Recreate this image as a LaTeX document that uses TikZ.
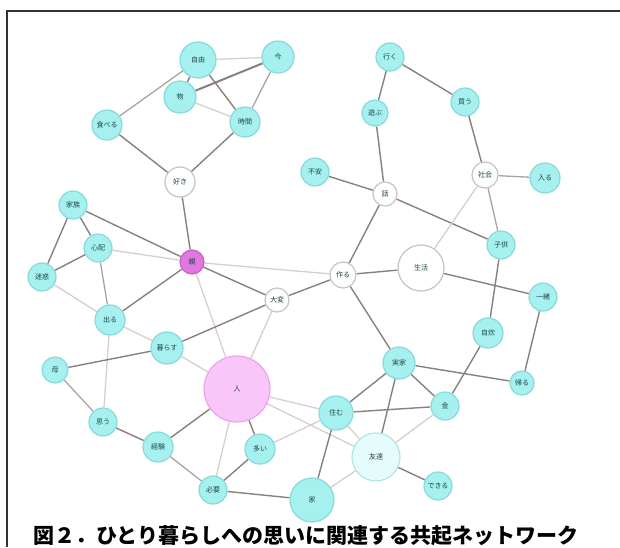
\documentclass[tikz,border=0pt]{standalone}
\usepackage{fontspec}
\newfontfamily\jp{Noto Sans CJK JP}
\definecolor{cyanfill}{HTML}{A6F0F0}
\definecolor{cyanline}{HTML}{86DADA}
\definecolor{lcyanfill}{HTML}{E6FBFB}
\definecolor{lcyanline}{HTML}{B0E6E6}
\definecolor{whiteline}{HTML}{C4C4C4}
\definecolor{pinkfill}{HTML}{E078E0}
\definecolor{pinkline}{HTML}{C860C8}
\definecolor{bpinkfill}{HTML}{F8C6F8}
\definecolor{bpinkline}{HTML}{EBA4EB}
\definecolor{edark}{HTML}{8A7F7F}
\definecolor{emid}{HTML}{ADA2A2}
\definecolor{elight}{HTML}{DACDCD}
\definecolor{labelc}{HTML}{1E4646}
\pgfdeclarelayer{bg}
\pgfsetlayers{bg,main}
\tikzset{
  nd/.style={circle, inner sep=0pt, line width=1.2pt, font=\jp\fontsize{7}{7}\selectfont, text=labelc, minimum size=2*#1 pt},
  cy/.style={nd=#1, fill=cyanfill, draw=cyanline},
  wh/.style={nd=#1, fill=white, draw=whiteline},
  lc/.style={nd=#1, fill=lcyanfill, draw=lcyanline},
  pk/.style={nd=#1, fill=pinkfill, draw=pinkline},
  bp/.style={nd=#1, fill=bpinkfill, draw=bpinkline},
  ed/.style={draw=edark, line width=1.4pt},
  em/.style={draw=emid, line width=1.3pt},
  el/.style={draw=elight, line width=1.3pt},
}
\begin{document}
\begin{tikzpicture}[x=1pt,y=-1pt]
\useasboundingbox (0,0) rectangle (620,547);
\draw[line width=1.3pt, black!80] (7,547) -- (7,11) -- (620,11);
% nodes
\node[cy=18] (jiyu) at (198,60) {自由};
\node[cy=16] (ima) at (278,57) {今};
\node[cy=16] (mono) at (180,97) {物};
\node[cy=15] (taberu) at (107,125) {食べる};
\node[cy=15] (jikan) at (245,122) {時間};
\node[wh=15] (suki) at (180,182) {好き};
\node[cy=14] (kazoku) at (73,205) {家族};
\node[cy=14] (shinpai) at (98,248) {心配};
\node[cy=14] (meiwaku) at (42,277) {迷惑};
\node[pk=12] (oya) at (192,262) {親};
\node[cy=15] (deru) at (110,320) {出る};
\node[wh=12] (taihen) at (277,300) {大変};
\node[cy=16] (kurasu) at (167,348) {暮らす};
\node[cy=13] (haha) at (55,370) {母};
\node[bp=33] (hito) at (237,389) {人};
\node[cy=14] (omou) at (103,422) {思う};
\node[cy=15] (keiken) at (158,447) {経験};
\node[cy=14] (hitsuyou) at (213,490) {必要};
\node[cy=15] (ooi) at (260,449) {多い};
\node[cy=22] (ie) at (312,500) {家};
\node[cy=17] (sumu) at (336,413) {住む};
\node[lc=24] (tomodachi) at (376,457) {友達};
\node[cy=14] (dekiru) at (438,486) {できる};
\node[cy=16] (jikka) at (399,363) {実家};
\node[cy=14] (kane) at (445,406) {金};
\node[cy=12] (kaeru) at (522,383) {帰る};
\node[cy=15] (jisui) at (488,333) {自炊};
\node[cy=14] (issho) at (543,297) {一緒};
\node[wh=23] (seikatsu) at (421,268) {生活};
\node[wh=13] (tsukuru) at (343,275) {作る};
\node[wh=12] (hanashi) at (385,194) {話};
\node[cy=14] (fuan) at (315,172) {不安};
\node[cy=14] (iku) at (390,57) {行く};
\node[cy=13] (asobu) at (375,113) {遊ぶ};
\node[cy=14] (kau) at (465,102) {買う};
\node[wh=13] (shakai) at (485,175) {社会};
\node[cy=15] (hairu) at (545,178) {入る};
\node[cy=14] (kodomo) at (501,245) {子供};
% edges
\begin{pgfonlayer}{bg}
\draw[ed] (jiyu) -- (mono);
\draw[ed] (jiyu) -- (jikan);
\draw[em] (jiyu) -- (taberu);
\draw[el] (jiyu) -- (ima);
\draw[ed, line width=2pt] (ima) -- (mono);
\draw[em] (ima) -- (jikan);
\draw[el] (mono) -- (jikan);
\draw[ed] (taberu) -- (suki);
\draw[ed] (jikan) -- (suki);
\draw[ed] (suki) -- (oya);
\draw[ed] (kazoku) -- (shinpai);
\draw[ed] (kazoku) -- (meiwaku);
\draw[ed] (kazoku) -- (oya);
\draw[ed] (shinpai) -- (meiwaku);
\draw[el] (shinpai) -- (oya);
\draw[em] (shinpai) -- (deru);
\draw[el] (meiwaku) -- (deru);
\draw[ed] (oya) -- (deru);
\draw[ed] (oya) -- (taihen);
\draw[el] (oya) -- (hito);
\draw[el] (oya) -- (tsukuru);
\draw[el] (deru) -- (kurasu);
\draw[el] (deru) -- (omou);
\draw[ed] (kurasu) -- (taihen);
\draw[ed] (kurasu) -- (haha);
\draw[el] (kurasu) -- (hito);
\draw[ed] (taihen) -- (tsukuru);
\draw[el] (taihen) -- (hito);
\draw[em] (haha) -- (omou);
\draw[ed] (omou) -- (keiken);
\draw[ed] (keiken) -- (hito);
\draw[em] (keiken) -- (hitsuyou);
\draw[el] (hito) -- (hitsuyou);
\draw[ed] (hito) -- (ooi);
\draw[el] (hito) -- (sumu);
\draw[el] (hito) -- (tomodachi);
\draw[ed] (ooi) -- (hitsuyou);
\draw[el] (ooi) -- (sumu);
\draw[ed] (hitsuyou) -- (ie);
\draw[ed] (ie) -- (sumu);
\draw[el] (ie) -- (tomodachi);
\draw[ed] (sumu) -- (jikka);
\draw[ed] (sumu) -- (kane);
\draw[el] (sumu) -- (tomodachi);
\draw[ed] (jikka) -- (tomodachi);
\draw[ed] (jikka) -- (kane);
\draw[ed] (jikka) -- (kaeru);
\draw[ed] (kane) -- (jisui);
\draw[el] (kane) -- (tomodachi);
\draw[ed] (tomodachi) -- (dekiru);
\draw[ed] (issho) -- (kaeru);
\draw[ed] (seikatsu) -- (issho);
\draw[ed] (jisui) -- (kodomo);
\draw[ed] (tsukuru) -- (seikatsu);
\draw[ed] (tsukuru) -- (hanashi);
\draw[ed] (tsukuru) -- (jikka);
\draw[ed] (hanashi) -- (kodomo);
\draw[el] (seikatsu) -- (shakai);
\draw[em] (shakai) -- (kodomo);
\draw[ed] (hanashi) -- (fuan);
\draw[ed] (iku) -- (asobu);
\draw[ed] (asobu) -- (hanashi);
\draw[ed] (iku) -- (kau);
\draw[ed] (kau) -- (shakai);
\draw[em] (shakai) -- (hairu);
\end{pgfonlayer}
% caption
\node[anchor=base, inner sep=0pt, font=\jp\bfseries\fontsize{21}{21}\selectfont] (cap) at (306,543) {図２．ひとり暮らしへの思いに関連する共起ネットワーク};
\end{tikzpicture}
\end{document}
